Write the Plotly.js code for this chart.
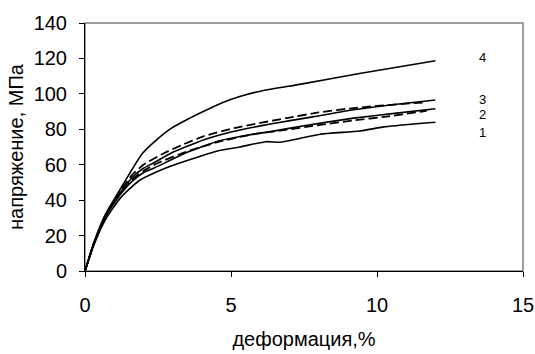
<!DOCTYPE html>
<html>
<head>
<meta charset="utf-8">
<script src="https://cdn.plot.ly/plotly-3.0.1.min.js"></script>
<style>html,body{margin:0;padding:0;background:#fff;}#chart{width:535px;height:354px;}</style>
</head>
<body>
<div id="chart"></div>
<script>
// Curve 4 (top, solid)
const x4 = [0, 0.3, 0.7, 1.2, 1.6, 1.95, 2.45, 2.95, 3.5, 4.05, 4.7, 5.3, 6.0, 7.4, 9.4, 12.0];
const y4 = [0, 16, 32, 46, 57, 66, 74, 80.5, 85.5, 90, 95, 98.5, 101.5, 105.5, 111.5, 118.7];
// Curve 3 (upper solid)
const x3 = [0, 0.3, 0.7, 1.2, 1.6, 2.0, 2.35, 3.0, 4.05, 5.0, 6.35, 7.8, 9.2, 10.6, 12.0];
const y3 = [0, 15.5, 31, 44, 52.5, 58, 61, 67, 74, 78.5, 83, 87, 91, 94, 96.5];
// Upper dashed
const xd1 = [0, 0.3, 0.7, 1.2, 1.6, 2.0, 2.7, 3.3, 4.05, 5.2, 6.9, 8.0, 9.2, 10.8, 11.7];
const yd1 = [0, 15.5, 31.5, 45, 54, 60, 66.5, 71, 76, 81, 86.3, 89.5, 92, 94.2, 95.3];
// Curve 2 (second solid)
const x2 = [0, 0.3, 0.7, 1.2, 1.6, 2.0, 2.35, 3.5, 4.6, 5.5, 6.35, 7.5, 9.2, 10.6, 12.0];
const y2 = [0, 15, 30.5, 43, 50.5, 55.5, 58, 67, 73.5, 76.5, 78.7, 82, 86.3, 89, 91.6];
// Lower dashed
const xd2 = [0, 0.3, 0.7, 1.2, 1.6, 2.0, 2.5, 3.5, 4.6, 5.76, 6.8, 8.05, 9.2, 10.33, 11.7];
const yd2 = [0, 15, 31, 44, 51.5, 56.5, 61, 67.5, 73, 77.2, 79.5, 82.5, 85, 87.2, 90.4];
// Curve 1 (bottom, solid)
const x1 = [0, 0.3, 0.7, 1.2, 1.6, 1.9, 2.6, 2.9, 3.9, 4.6, 5.3, 6.2, 6.7, 8.05, 9.4, 10.3, 12.0];
const y1 = [0, 14.5, 29, 41, 47.5, 51.5, 57, 59, 64.5, 68, 70, 73, 72.7, 77.2, 79, 81.5, 84];

// Curve number labels
const labelText = ['1', '2', '3', '4'];
const labelX = [13.6, 13.6, 13.6, 13.6];
const labelY = [78, 88.6, 97, 120.3];

const xTicks = [0, 5, 10, 15];
const yTicks = [0, 20, 40, 60, 80, 100, 120, 140];

const solid = {color: '#000', width: 1.6, dash: 'solid', shape: 'spline', smoothing: 0.5};
const dashed = {color: '#000', width: 1.8, dash: '9px,4px', shape: 'spline', smoothing: 0.5};

const traces = [
  {x: x4, y: y4, mode: 'lines', line: solid, name: '4'},
  {x: x3, y: y3, mode: 'lines', line: solid, name: '3'},
  {x: xd1, y: yd1, mode: 'lines', line: dashed, name: 'd1'},
  {x: x2, y: y2, mode: 'lines', line: solid, name: '2'},
  {x: xd2, y: yd2, mode: 'lines', line: dashed, name: 'd2'},
  {x: x1, y: y1, mode: 'lines', line: solid, name: '1'}
];

const font = {family: 'Liberation Sans, Arial, sans-serif', color: '#000'};

const layout = {
  width: 535, height: 354,
  margin: {l: 85, r: 12, t: 23, b: 83},
  paper_bgcolor: '#fff', plot_bgcolor: '#fff',
  showlegend: false,
  font: font,
  xaxis: {
    range: [0, 15], tickvals: xTicks, ticktext: xTicks.map(String),
    showgrid: false, zeroline: false,
    showline: true, linecolor: '#000', linewidth: 1,
    ticks: 'outside', ticklen: 5, tickcolor: '#000', tickwidth: 1,
    ticklabelstandoff: 11,
    tickfont: {family: font.family, size: 20, color: '#000'},
    title: {text: 'деформация,%', font: {family: font.family, size: 20, color: '#000'}, standoff: 16}
  },
  yaxis: {
    range: [0, 140], tickvals: yTicks, ticktext: yTicks.map(String),
    showgrid: false, zeroline: false,
    showline: true, linecolor: '#000', linewidth: 1,
    ticks: 'outside', ticklen: 5, tickcolor: '#000', tickwidth: 1,
    ticklabelstandoff: 8,
    tickfont: {family: font.family, size: 20, color: '#000'},
    title: {text: 'напряжение, МПа', font: {family: font.family, size: 20, color: '#000'}, standoff: 4}
  },
  shapes: [
    {type: 'rect', xref: 'paper', yref: 'paper', x0: 0, x1: 1, y0: 0, y1: 1,
     line: {color: '#808080', width: 1.5}, layer: 'below'}
  ],
  annotations: labelText.map((t, i) => ({
    x: labelX[i], y: labelY[i], xref: 'x', yref: 'y', text: t, showarrow: false,
    font: {family: font.family, size: 13, color: '#000'}
  }))
};

Plotly.newPlot('chart', traces, layout, {displayModeBar: false, staticPlot: true});
</script>
</body>
</html>
